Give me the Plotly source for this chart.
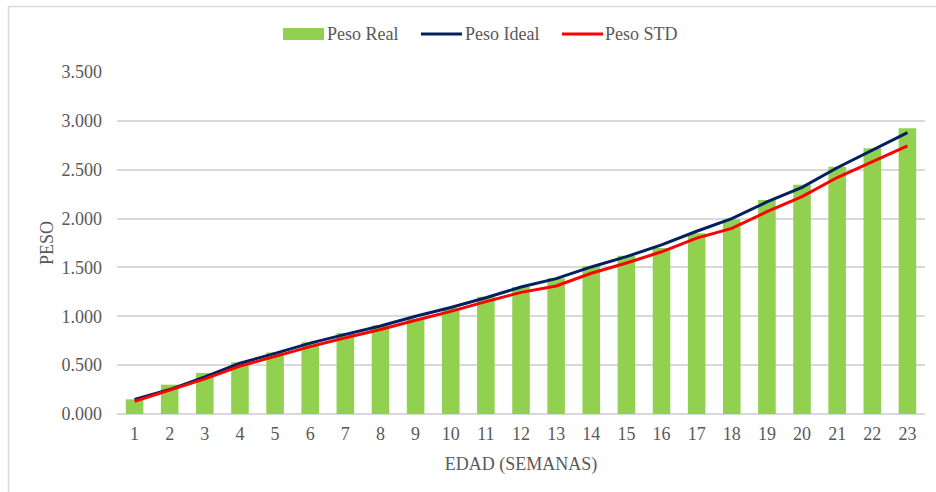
import plotly.graph_objects as go

# Weekly weight records (kg)
semanas = list(range(1, 24))
peso_real = [0.15, 0.30, 0.42, 0.53, 0.63, 0.735, 0.83, 0.905, 0.975, 1.085,
             1.20, 1.30, 1.39, 1.515, 1.62, 1.70, 1.85, 1.99, 2.19, 2.345,
             2.53, 2.72, 2.925]
peso_ideal = [0.15, 0.25, 0.38, 0.52, 0.62, 0.725, 0.815, 0.90, 1.00, 1.09,
              1.19, 1.30, 1.385, 1.505, 1.61, 1.73, 1.87, 2.00, 2.17, 2.32,
              2.52, 2.70, 2.88]
peso_std = [0.13, 0.245, 0.36, 0.49, 0.59, 0.69, 0.78, 0.865, 0.96, 1.05,
            1.15, 1.245, 1.31, 1.44, 1.545, 1.66, 1.80, 1.90, 2.07, 2.225,
            2.42, 2.585, 2.745]
y_ticks = [0, 0.5, 1.0, 1.5, 2.0, 2.5, 3.0, 3.5]
y_tick_labels = ["0.000", "0.500", "1.000", "1.500", "2.000", "2.500", "3.000", "3.500"]

FONT = "Liberation Serif, Times New Roman, DejaVu Serif, serif"
FSIZE = 18
TEXT = "#595959"
GRID = "#D9D9D9"
GREEN, NAVY, RED = "#92D050", "#002060", "#FF0000"

fig = go.Figure()
fig.add_trace(go.Bar(x=semanas, y=peso_real, name="Peso Real",
                     marker=dict(color=GREEN, line=dict(width=0))))
fig.add_trace(go.Scatter(x=semanas, y=peso_ideal, name="Peso Ideal", mode="lines",
                         line=dict(color=NAVY, width=3)))
fig.add_trace(go.Scatter(x=semanas, y=peso_std, name="Peso STD", mode="lines",
                         line=dict(color=RED, width=3)))

# Legend drawn as wide swatches above the plot, Excel style
legend_y = 1.111
shapes = [
    dict(type="rect", xref="paper", yref="paper", x0=0.2054, x1=0.2562,
         y0=1.0936, y1=1.1287, fillcolor=GREEN, line=dict(width=0)),
    dict(type="line", xref="paper", yref="paper", x0=0.3762, x1=0.4270,
         y0=legend_y, y1=legend_y, line=dict(color=NAVY, width=3)),
    dict(type="line", xref="paper", yref="paper", x0=0.5507, x1=0.6015,
         y0=legend_y, y1=legend_y, line=dict(color=RED, width=3)),
    # chart frame
    dict(type="line", xref="paper", yref="paper", x0=-0.1343, x1=1.2,
         y0=1.1915, y1=1.1915, line=dict(color=GRID, width=1.5)),
    dict(type="line", xref="paper", yref="paper", x0=-0.1343, x1=-0.1343,
         y0=-0.3, y1=1.1915, line=dict(color=GRID, width=1.5)),
]
annotations = [
    dict(text=name, x=xp, y=legend_y, xref="paper", yref="paper",
         xanchor="left", yanchor="middle", showarrow=False,
         font=dict(family=FONT, size=FSIZE, color=TEXT))
    for name, xp in [("Peso Real", 0.2575), ("Peso Ideal", 0.4283), ("Peso STD", 0.6016)]
]

fig.update_layout(
    width=936, height=492,
    margin=dict(l=117, r=11, t=72, b=78),
    paper_bgcolor="white", plot_bgcolor="white",
    font=dict(family=FONT, size=FSIZE, color=TEXT),
    bargap=0.5,
    showlegend=False,
    xaxis=dict(range=[0.5, 23.5], tickmode="array", tickvals=semanas,
               ticktext=[str(s) for s in semanas], showgrid=False, zeroline=False,
               showline=False, ticks="", ticklabelstandoff=7,
               title=dict(text="EDAD (SEMANAS)", standoff=14,
                          font=dict(family=FONT, size=FSIZE, color=TEXT))),
    yaxis=dict(range=[0, 3.5], tickmode="array", tickvals=y_ticks, ticktext=y_tick_labels,
               showgrid=True, gridcolor=GRID, gridwidth=1.5, zeroline=True,
               zerolinecolor=GRID, zerolinewidth=1.5, showline=False, ticks="",
               ticklabelstandoff=14,
               title=dict(text="PESO", standoff=3,
                          font=dict(family=FONT, size=FSIZE, color=TEXT))),
    shapes=shapes,
    annotations=annotations,
)

fig.write_html("out.html")
